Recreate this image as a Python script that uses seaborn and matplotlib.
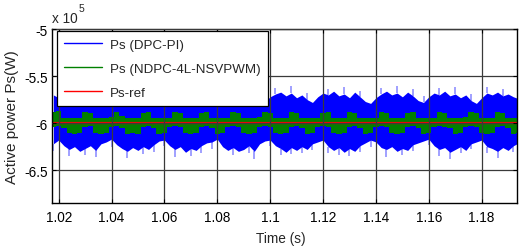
import numpy as np
import matplotlib
matplotlib.use("Agg")
import matplotlib.pyplot as plt
from matplotlib.lines import Line2D
from matplotlib.ticker import FuncFormatter
import seaborn as sns

sns.set_style("ticks")
plt.rcParams['font.family'] = ['Liberation Sans', 'DejaVu Sans']
plt.rcParams['axes.unicode_minus'] = False

# time base (s), one reading every 2 ms
t = np.linspace(1.018, 1.194, 89)

# Ps (DPC-PI) in 1e5 W : solid band edges
dpc_top = [-5.70, -5.73, -5.68, -5.72, -5.66, -5.71, -5.69, -5.74, -5.67, -5.72,
           -5.76, -5.70, -5.68, -5.73, -5.66, -5.70, -5.72, -5.68, -5.71, -5.75,
           -5.69, -5.72, -5.67, -5.70, -5.74, -5.68, -5.71, -5.66, -5.73, -5.70,
           -5.75, -5.69, -5.72, -5.67, -5.70, -5.73, -5.68, -5.71, -5.69, -5.74,
           -5.77, -5.72, -5.69, -5.67, -5.71, -5.68, -5.73, -5.70, -5.75, -5.78,
           -5.72, -5.68, -5.70, -5.66, -5.71, -5.69, -5.73, -5.67, -5.72, -5.77,
           -5.79, -5.73, -5.69, -5.66, -5.70, -5.68, -5.72, -5.67, -5.71, -5.76,
           -5.78, -5.72, -5.68, -5.70, -5.66, -5.71, -5.69, -5.73, -5.70, -5.76,
           -5.79, -5.73, -5.68, -5.70, -5.67, -5.71, -5.69, -5.72, -5.74]
dpc_bot = [-6.22, -6.18, -6.24, -6.28, -6.25, -6.30, -6.27, -6.24, -6.29, -6.22,
           -6.20, -6.17, -6.23, -6.27, -6.30, -6.26, -6.29, -6.25, -6.28, -6.23,
           -6.19, -6.18, -6.24, -6.28, -6.25, -6.31, -6.27, -6.29, -6.24, -6.21,
           -6.20, -6.17, -6.25, -6.29, -6.26, -6.30, -6.28, -6.24, -6.30, -6.22,
           -6.19, -6.18, -6.24, -6.27, -6.31, -6.26, -6.29, -6.25, -6.28, -6.22,
           -6.20, -6.18, -6.25, -6.29, -6.26, -6.31, -6.27, -6.30, -6.24, -6.21,
           -6.18, -6.20, -6.26, -6.28, -6.25, -6.30, -6.27, -6.29, -6.23, -6.21,
           -6.19, -6.17, -6.24, -6.28, -6.26, -6.31, -6.28, -6.25, -6.29, -6.22,
           -6.20, -6.18, -6.25, -6.27, -6.30, -6.26, -6.29, -6.24, -6.21]
# faint spike tips
dpc_top_spk = [-5.70, -5.66, -5.68, -5.72, -5.61, -5.71, -5.69, -5.68, -5.67, -5.72,
               -5.70, -5.70, -5.68, -5.73, -5.60, -5.70, -5.72, -5.63, -5.71, -5.75,
               -5.64, -5.72, -5.67, -5.70, -5.66, -5.68, -5.71, -5.60, -5.73, -5.70,
               -5.75, -5.63, -5.72, -5.67, -5.70, -5.65, -5.68, -5.71, -5.62, -5.74,
               -5.77, -5.72, -5.63, -5.67, -5.71, -5.61, -5.73, -5.70, -5.68, -5.78,
               -5.72, -5.68, -5.64, -5.66, -5.71, -5.62, -5.73, -5.67, -5.66, -5.77,
               -5.79, -5.73, -5.63, -5.66, -5.70, -5.61, -5.72, -5.67, -5.64, -5.76,
               -5.71, -5.72, -5.68, -5.63, -5.66, -5.71, -5.62, -5.73, -5.70, -5.69,
               -5.79, -5.73, -5.62, -5.70, -5.67, -5.64, -5.69, -5.72, -5.68]
dpc_bot_spk = [-6.30, -6.18, -6.24, -6.35, -6.25, -6.30, -6.34, -6.24, -6.36, -6.22,
               -6.20, -6.25, -6.23, -6.27, -6.37, -6.26, -6.29, -6.33, -6.28, -6.31,
               -6.19, -6.24, -6.24, -6.36, -6.25, -6.31, -6.35, -6.29, -6.32, -6.21,
               -6.27, -6.17, -6.25, -6.29, -6.34, -6.30, -6.28, -6.32, -6.38, -6.22,
               -6.19, -6.24, -6.24, -6.34, -6.31, -6.33, -6.29, -6.32, -6.28, -6.29,
               -6.20, -6.18, -6.32, -6.29, -6.34, -6.31, -6.35, -6.30, -6.31, -6.21,
               -6.25, -6.20, -6.26, -6.36, -6.25, -6.30, -6.34, -6.29, -6.30, -6.21,
               -6.19, -6.23, -6.24, -6.35, -6.26, -6.38, -6.28, -6.32, -6.29, -6.28,
               -6.20, -6.18, -6.32, -6.27, -6.37, -6.26, -6.29, -6.31, -6.21]

# Ps (NDPC-4L-NSVPWM) band edges
ndpc_top = [-5.88, -5.87, -5.94, -5.95, -5.94, -5.95, -5.88, -5.89, -5.95, -5.94,
            -5.95, -5.93, -5.88, -5.92, -5.95, -5.94, -5.95, -5.89, -5.88, -5.94,
            -5.95, -5.94, -5.95, -5.88, -5.89, -5.95, -5.94, -5.95, -5.89, -5.88,
            -5.94, -5.95, -5.94, -5.95, -5.88, -5.89, -5.95, -5.94, -5.95, -5.93,
            -5.88, -5.89, -5.95, -5.94, -5.95, -5.88, -5.89, -5.94, -5.95, -5.94,
            -5.95, -5.89, -5.88, -5.94, -5.95, -5.94, -5.88, -5.89, -5.95, -5.94,
            -5.95, -5.94, -5.88, -5.89, -5.95, -5.94, -5.95, -5.89, -5.88, -5.94,
            -5.95, -5.94, -5.95, -5.88, -5.89, -5.95, -5.94, -5.95, -5.93, -5.88,
            -5.89, -5.95, -5.94, -5.95, -5.88, -5.89, -5.95, -5.94, -5.95]
ndpc_bot = [-6.04, -6.03, -6.05, -6.11, -6.12, -6.10, -6.04, -6.03, -6.11, -6.12,
            -6.11, -6.04, -6.03, -6.05, -6.12, -6.11, -6.12, -6.04, -6.03, -6.05,
            -6.12, -6.11, -6.04, -6.03, -6.04, -6.11, -6.12, -6.11, -6.04, -6.03,
            -6.05, -6.12, -6.11, -6.04, -6.03, -6.04, -6.11, -6.12, -6.10, -6.04,
            -6.03, -6.04, -6.11, -6.12, -6.11, -6.04, -6.03, -6.05, -6.12, -6.11,
            -6.04, -6.03, -6.04, -6.11, -6.12, -6.11, -6.04, -6.03, -6.05, -6.12,
            -6.11, -6.04, -6.03, -6.04, -6.11, -6.12, -6.10, -6.04, -6.03, -6.05,
            -6.12, -6.11, -6.04, -6.03, -6.04, -6.05, -6.12, -6.11, -6.04, -6.03,
            -6.04, -6.11, -6.12, -6.11, -6.04, -6.03, -6.05, -6.12, -6.11]

# reference power
ref_t = [1.018, 1.194]
ps_ref = [-6.0, -6.0]

xticks = [1.02, 1.04, 1.06, 1.08, 1.1, 1.12, 1.14, 1.16, 1.18]
yticks = [-6.5, -6, -5.5, -5]

fig = plt.figure(figsize=(5.26, 2.51), dpi=100)
ax = fig.add_axes([0.0989, 0.187, 0.8847, 0.693])

blue = (0, 0, 1)
light = (0.6, 0.6, 1.0)
green = (0, 0.5, 0)
red = (1, 0, 0)

ax.vlines(t, dpc_top, dpc_top_spk, color=light, lw=1.3, zorder=1)
ax.vlines(t, dpc_bot_spk, dpc_bot, color=light, lw=1.3, zorder=1)
ax.fill_between(t, dpc_bot, dpc_top, color=blue, lw=0, zorder=1.2)
ax.fill_between(t, ndpc_bot, ndpc_top, step='mid', color=green, lw=0, zorder=1.4)
sns.lineplot(x=ref_t, y=ps_ref, color=red, lw=1.6, ax=ax, zorder=1.6)

ax.set_xlim(1.0175, 1.1935)
ax.set_ylim(-6.85, -5)
ax.set_xticks(xticks)
ax.set_yticks(yticks)
fmt = FuncFormatter(lambda v, p: f"{v:g}")
ax.xaxis.set_major_formatter(fmt)
ax.yaxis.set_major_formatter(fmt)
ax.tick_params(direction='in', length=3, width=0.8, top=True, right=True,
               labelsize=9.8, colors='black')
ax.tick_params(axis='x', pad=5)
ax.tick_params(axis='y', pad=3)

ax.set_axisbelow(False)
ax.grid(True, color='#3a3a3a', lw=0.9, ls='-')
for s in ax.spines.values():
    s.set_color('black')
    s.set_linewidth(1.0)

ax.set_xlabel("Time (s)", fontsize=9.8)
ax.xaxis.set_label_coords(0.492, -0.16)
ax.set_ylabel("Active power Ps(W)", fontsize=11)
ax.yaxis.set_label_coords(-0.07, 0.5)

fig.text(52 / 526, 1 - 23 / 251, "x 10", fontsize=9.8, va='baseline', ha='left')
fig.text(79 / 526, 1 - 12 / 251, "5", fontsize=7.5, va='baseline', ha='left')

handles = [Line2D([], [], color=blue, lw=1),
           Line2D([], [], color=green, lw=1),
           Line2D([], [], color=red, lw=1)]
labels = ["Ps (DPC-PI)", "Ps (NDPC-4L-NSVPWM)", "Ps-ref"]
leg = ax.legend(handles, labels, loc='upper left', bbox_to_anchor=(0.011, 0.99),
                borderaxespad=0, fontsize=9.6, handlelength=2.8, handletextpad=0.6,
                labelspacing=0.88, borderpad=0.55, fancybox=False, framealpha=1,
                edgecolor='black')
leg.get_frame().set_linewidth(0.9)

fig.savefig("out.png", dpi=100)
